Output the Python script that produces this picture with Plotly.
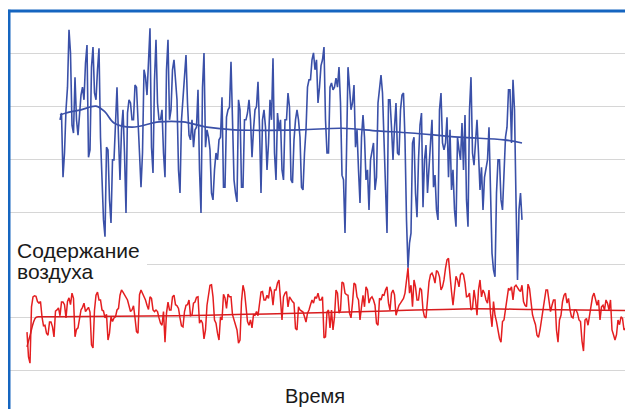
import plotly.graph_objects as go

# time steps (sample index); readings were taken at each step and at each half step
blue_t = list(range(11, 166))
red_t = list(range(0, 202))

blue_values = [
    47.5, 36.6, 49.4, 64.6, 46.5, 55.6, 44.6, 52.2, 51.3, 61.7,
    41.8, 61.3, 51.3, 61.1, 36.1, 25.3, 41.8, 27.9, 39.9, 53.7,
    36.1, 49.4, 29.8, 51.3, 47.5, 54.1, 45.6, 34.7, 57.0, 52.2,
    64.9, 37.4, 62.7, 47.5, 49.4, 36.6, 62.7, 49.4, 58.9, 51.3,
    33.6, 51.3, 59.8, 44.6, 47.5, 45.6, 53.2, 29.8, 60.2, 45.6,
    41.8, 32.3, 41.2, 43.7, 51.8, 34.7, 49.4, 58.5, 36.1, 31.9,
    49.4, 34.7, 47.5, 51.3, 40.4, 49.4, 54.7, 33.6, 49.4, 38.0,
    51.3, 59.2, 36.1, 45.6, 38.0, 47.5, 52.6, 36.1, 43.7, 49.4,
    44.2, 34.2, 45.6, 55.1, 58.9, 57.0, 50.7, 57.8, 61.3, 41.2,
    53.7, 53.2, 55.4, 57.5, 37.0, 26.0, 57.5, 49.4, 54.1, 45.6,
    31.7, 48.4, 36.1, 30.4, 41.8, 34.2, 50.7, 56.0, 43.7, 26.0,
    51.3, 39.9, 50.7, 40.8, 52.2, 43.7, 19.4, 26.0, 44.2, 29.0,
    46.5, 30.9, 42.7, 39.9, 47.5, 37.0, 28.5, 52.6, 41.8, 48.0,
    45.6, 38.0, 27.2, 41.8, 46.9, 48.4, 27.2, 55.6, 38.9, 47.5,
    34.2, 30.4, 38.0, 46.1, 22.2, 17.7, 39.9, 32.3, 38.9, 46.1,
    53.2, 55.1, 32.3, 30.4, 28.5,
]

# readings half-way between consecutive steps
blue_mid_values = [
    48.8, 41.2, 53.7, 60.2, 45.0, 47.5, 48.8, 53.7, 58.3, 40.4,
    57.5, 52.6, 57.0, 44.2, 28.5, 42.3, 32.3, 39.9, 47.5, 44.2,
    45.6, 41.2, 48.8, 50.7, 47.5, 53.7, 41.2, 41.2, 55.6, 58.9,
    42.3, 55.1, 50.7, 47.5, 41.2, 57.0, 47.5, 57.0, 55.1, 38.0,
    47.5, 56.4, 50.7, 43.7, 42.3, 46.1, 38.0, 53.7, 42.3, 44.2,
    33.6, 38.0, 39.9, 44.2, 34.7, 48.0, 49.9, 47.5, 33.6, 51.3,
    34.7, 47.5, 48.8, 47.5, 45.6, 50.0, 46.1, 47.5, 46.1, 43.0,
    47.5, 41.2, 48.8, 47.5, 36.1, 47.5, 49.9, 35.5, 47.5, 47.5,
    34.7, 41.2, 53.7, 55.1, 60.2, 58.9, 53.7, 58.9, 47.5, 41.2,
    54.5, 53.7, 53.7, 50.7, 36.1, 41.2, 53.7, 50.7, 42.3, 38.0,
    44.2, 44.2, 38.0, 39.9, 43.1, 36.6, 53.7, 52.6, 36.6, 51.3,
    46.1, 46.1, 41.2, 49.4, 52.6, 28.5, 24.1, 43.1, 33.6, 39.9,
    48.8, 39.9, 33.6, 43.1, 34.7, 30.4, 49.4, 43.1, 43.1, 36.6,
    34.2, 30.4, 44.2, 39.9, 38.0, 32.3, 49.4, 41.2, 43.1, 41.2,
    38.5, 36.6, 39.9, 30.4, 19.0, 33.6, 39.9, 30.4, 44.2, 53.2,
    43.1, 49.4, 17.1, 33.6,
]

red_values = [
    7.2, 1.3, 13.9, 14.0, 12.7, 10.1, 8.5, 6.6, 9.1, 6.3,
    11.4, 10.3, 12.9, 9.9, 13.7, 14.6, 6.3, 8.0, 11.4, 12.7,
    11.4, 11.0, 4.2, 14.2, 13.3, 11.4, 9.9, 5.7, 10.1, 9.9,
    11.4, 14.2, 14.8, 13.9, 12.2, 11.4, 9.9, 7.0, 15.2, 14.0,
    12.3, 13.9, 11.4, 11.4, 9.9, 8.5, 5.3, 12.9, 11.4, 14.2,
    12.2, 9.9, 8.2, 12.3, 13.3, 10.4, 12.9, 13.9, 9.5, 5.9,
    12.3, 16.1, 13.9, 8.9, 5.7, 9.5, 13.7, 14.4,
    13.9, 9.5, 7.6, 5.7, 16.1, 12.3, 8.5, 8.0, 10.4, 10.3,
    14.8, 13.3, 14.2, 15.8, 12.3, 15.2, 17.1, 9.5, 14.6, 12.0,
    13.3, 12.7, 7.6, 11.4, 11.0, 9.1, 11.4, 13.3, 13.9, 14.6,
    13.3, 6.1, 11.0, 8.0, 7.6, 15.2, 10.8, 16.7, 14.6, 14.2,
    9.9, 16.5, 13.9, 9.5, 14.2, 15.8, 12.7, 13.9, 12.3, 8.5,
    13.3, 14.2, 15.8, 11.4, 15.2, 10.4, 12.3, 13.3, 14.6, 19.4,
    16.1, 17.1, 13.3, 15.6, 11.4, 9.9, 16.7, 18.4,
    16.5, 18.6, 15.2, 17.1, 20.9, 17.1, 12.3, 17.8, 15.8, 18.4,
    16.5, 14.0, 11.4, 15.2, 10.4, 17.1, 15.2, 13.3, 15.2, 8.2,
    10.4, 7.6, 5.3, 9.5, 14.2, 15.2, 13.3, 16.1, 15.2, 16.1,
    12.3, 16.3, 12.3, 9.5, 6.6, 7.6, 11.4, 15.2, 13.3, 12.3,
    13.3, 5.3, 10.4, 14.2, 12.7, 11.4, 9.9, 11.4, 9.5, 5.5,
    9.5, 8.5, 12.3, 14.6, 12.3, 9.5, 12.3, 13.3, 11.4, 7.6,
    5.7, 9.5, 10.1, 7.6, 8.4, 8.2,
]

red_mid_values = [
    2.5, 12.0, 14.1, 13.0, 13.0, 8.4, 7.0, 9.1, 8.2, 11.2,
    11.8, 12.9, 12.4, 13.0, 12.4, 13.6, 7.7, 9.5, 11.9, 11.1,
    11.9, 4.8, 11.4, 14.8, 13.3, 11.2, 10.6, 7.0, 9.2, 10.1,
    11.7, 15.2, 14.3, 13.3, 11.1, 12.2, 7.3, 14.3, 14.6, 13.3,
    11.5, 13.6, 11.1, 11.1, 8.9, 11.1, 10.8, 11.4, 13.9, 12.4,
    11.7, 8.4, 11.1, 12.4, 10.3, 12.7, 13.8, 8.9, 8.9, 7.6,
    13.9, 16.2, 9.5, 7.0, 10.1, 14.4, 11.7,
    13.9, 10.5, 8.2,
    5.1, 13.0, 14.9, 9.2, 9.5, 10.5, 11.1, 12.7, 14.9, 13.3,
    13.6, 14.9, 15.2, 16.5, 13.3, 13.9, 14.9, 13.9, 13.0, 7.9,
    12.0, 11.1, 10.1, 10.8, 12.4, 12.7, 13.6, 13.3, 13.9, 6.3,
    11.4, 11.4, 10.1, 14.6, 11.4, 16.5, 14.3, 10.8, 12.7, 16.2,
    13.3, 12.0, 12.0, 15.2, 13.6, 13.3, 8.9, 13.6, 14.3, 15.2,
    12.7, 14.6, 14.3, 11.4, 12.7, 13.6, 17.1, 14.6, 12.0, 15.8,
    13.3, 15.2, 10.1, 13.3, 18.1,
    17.7, 18.9, 17.7, 15.8, 19.3,
    21.2, 14.9, 15.2, 17.1, 18.1, 18.1, 13.9, 14.6, 11.7, 13.3,
    15.2, 13.9, 14.6, 12.7, 10.8, 13.0, 9.2, 6.0, 9.2, 11.7,
    15.5, 15.8, 15.8, 15.5, 14.9, 13.0, 12.0, 15.5, 10.5, 8.6,
    6.2, 9.2, 13.3, 15.2, 11.1, 13.3, 7.6, 9.5, 13.0, 14.6,
    13.6, 10.1, 11.4, 10.8, 9.2, 3.6, 9.8, 10.1, 13.9, 13.6,
    13.3, 12.0, 11.4, 12.7, 13.3, 6.7, 6.7, 8.6, 9.8, 7.9, 8.6,
]

blue_trend_t = [11, 13, 18, 23, 26, 29, 35, 44, 52, 60, 69, 91, 105, 117, 128, 144, 159, 165]
blue_trend = [48.4, 48.8, 49.4, 50.1, 49.0, 46.9, 46.1, 47.1, 47.1, 46.1, 45.6, 45.6, 45.9, 45.4, 45.0, 44.2, 43.7, 43.1]

red_trend_t = [0, 1, 3, 5, 30, 60, 90, 120, 145, 170, 201]
red_trend = [4.4, 6.5, 10.0, 10.1, 10.2, 10.4, 10.8, 11.2, 11.6, 11.5, 11.3]

y_label = "Содержание<br>воздуха"
x_label = "Время"

BLUE = "#3a50a8"
RED = "#e41e20"
FONT = "Liberation Sans, Arial, sans-serif"


def merged(steps, vals, mids):
    pts = list(zip(steps, vals)) + [(t + 0.5, v) for t, v in zip(steps[:-1], mids)]
    pts.sort()
    return [p[0] for p in pts], [p[1] for p in pts]


bx, by = merged(blue_t, blue_values, blue_mid_values)
rx, ry = merged(red_t, red_values, red_mid_values)

fig = go.Figure()
fig.add_trace(go.Scatter(x=bx, y=by, mode="lines",
                         line=dict(color=BLUE, width=1.6), hoverinfo="skip"))
fig.add_trace(go.Scatter(x=rx, y=ry, mode="lines",
                         line=dict(color=RED, width=1.5), hoverinfo="skip"))
fig.add_trace(go.Scatter(x=blue_trend_t, y=blue_trend, mode="lines",
                         line=dict(color=BLUE, width=1.7, shape="spline"), hoverinfo="skip"))
fig.add_trace(go.Scatter(x=red_trend_t, y=red_trend, mode="lines",
                         line=dict(color="#d81c1e", width=1.5, shape="spline"), hoverinfo="skip"))

label_lines = y_label.split("<br>")

# page body has an 8px default margin: figure is placed at (8, 8)
fig.update_layout(
    width=625, height=401,
    margin=dict(l=0, r=0, t=3, b=0, pad=0),
    autosize=False,
    paper_bgcolor="white", plot_bgcolor="white",
    showlegend=False,
    xaxis=dict(range=[-6.333, 202], showgrid=False, zeroline=False,
               showticklabels=False, ticks="", showline=False, fixedrange=True),
    yaxis=dict(range=[-7.40, 68.16], tick0=0, dtick=10, showgrid=True,
               gridcolor="#d6d6d6", gridwidth=1, zeroline=False,
               showticklabels=False, ticks="", showline=False, fixedrange=True),
    shapes=[
        dict(type="rect", xref="paper", yref="paper", x0=0.003, x1=0.2224,
             y0=0.309, y1=0.4296, fillcolor="white", line=dict(width=0), layer="above"),
        dict(type="line", xref="paper", yref="paper", x0=0.0016, x1=0.0016, y0=0, y1=1.003,
             line=dict(color="#1565c0", width=3), layer="above"),
        dict(type="line", xref="paper", yref="paper", x0=0, x1=1.0, y0=1.0, y1=1.0,
             line=dict(color="#1565c0", width=3), layer="above"),
    ],
    annotations=[
        dict(text=label_lines[0], xref="paper", yref="paper", x=0.0115, y=(409 - 250) / 398,
             xanchor="left", yanchor="middle", showarrow=False,
             font=dict(family=FONT, size=21, color="#1a1a1a")),
        dict(text=label_lines[1], xref="paper", yref="paper", x=0.0115, y=(409 - 271) / 398,
             xanchor="left", yanchor="middle", showarrow=False,
             font=dict(family=FONT, size=21, color="#1a1a1a")),
        dict(text=x_label, xref="paper", yref="paper", x=(315 - 8) / 625, y=(409 - 396) / 398,
             xanchor="center", yanchor="middle", showarrow=False,
             font=dict(family=FONT, size=20, color="#1a1a1a")),
    ],
)

fig.write_html("out.html", config={"displayModeBar": False})
